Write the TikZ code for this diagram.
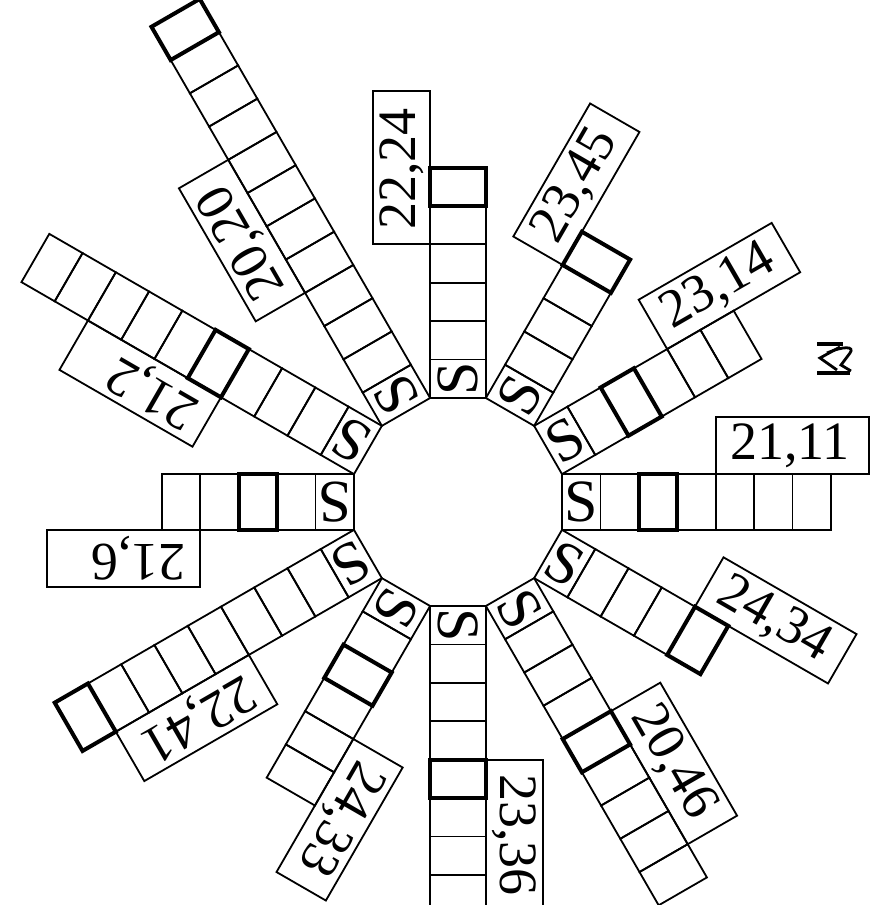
\documentclass[tikz,border=0pt]{standalone}
\usepackage{fontspec}
\setmainfont{Liberation Serif}

\begin{document}
\begin{tikzpicture}[x=0.5pt, y=0.5pt,
  cell/.style={draw, line width=0.9pt},
  boldcell/.style={draw, line width=2pt},
  tagbox/.style={draw, line width=0.9pt},
  tagtext/.style={font=\fontsize{27}{27}\selectfont, inner sep=0pt, anchor=west},
  stext/.style={font=\fontsize{30}{30}\selectfont, inner sep=0pt}]
\def\rin{104}\def\cl{38.4}\def\cw{55.7}\def\tagh{57}
\useasboundingbox (-458,-403) rectangle (421,502);
% spokes: angle / cells / bold cell / label
\foreach \ang/\cnt/\hi/\lbl [count=\i] in {0/7/3/{21,11}, 30/6/3/{23,14}, 60/5/5/{23,45},
    90/6/6/{22,24}, 120/12/12/{20,20}, 150/10/5/{21,2}, 180/5/3/{21,6}, 210/9/9/{22,41},
    240/6/3/{24,33}, 270/8/5/{23,36}, 300/9/5/{20,46}, 330/5/5/{24,34}}{
  \begin{scope}[rotate=\ang]
    \foreach \k in {1,...,\cnt}
      \draw[cell] ({\rin+(\k-1)*\cl},{-\cw/2}) rectangle ({\rin+\k*\cl},{\cw/2});
    \draw[boldcell] ({\rin+(\hi-1)*\cl},{-\cw/2}) rectangle ({\rin+\hi*\cl},{\cw/2});
    \node[stext, rotate=\ang] (s\i) at ({\rin+\cl/2},0) {S};
    \draw[tagbox] ({\rin+4*\cl},{\cw/2}) rectangle ({\rin+8*\cl},{\cw/2+\tagh});
    \node[tagtext, rotate=\ang] (tag\i) at ({\rin+4*\cl+14},{\cw/2+\tagh/2}) {\lbl};
  \end{scope}
}
% mark at right
\draw[line width=1.6pt] (359,158) -- (385,158);
\draw[line width=1.6pt] (359,129) -- (392,129);
\draw[line width=1.4pt] (382,155) -- (362,144) -- (379,132);
\draw[line width=1.4pt] (369,149) .. controls (385,156) and (397,156) .. (392,149) -- (383,137) -- (393,131);
\end{tikzpicture}
\end{document}
